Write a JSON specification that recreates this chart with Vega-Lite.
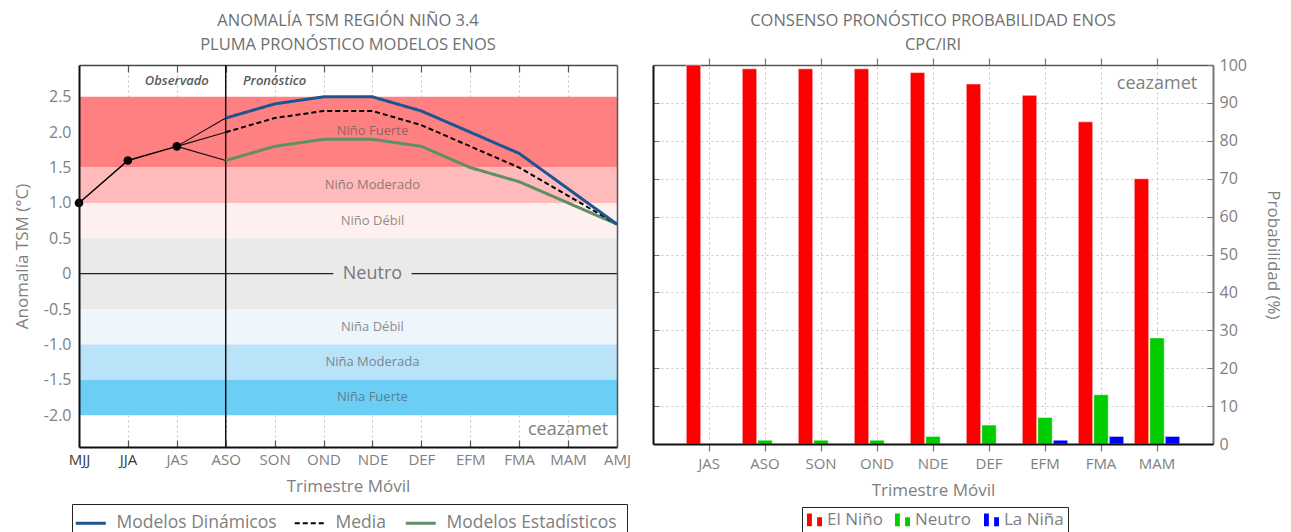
{
  "$schema": "https://vega.github.io/schema/vega-lite/v6.json",
  "background": "white",
  "padding": {"left": 13, "top": 12, "right": 4, "bottom": 0},
  "spacing": 36,
  "bounds": "flush",
  "datasets": {
    "franjas": [
      {"fase": "Niño Fuerte", "desde": 1.5, "hasta": 2.5},
      {"fase": "Niño Moderado", "desde": 1.0, "hasta": 1.5},
      {"fase": "Niño Débil", "desde": 0.5, "hasta": 1.0},
      {"fase": "Neutro", "desde": -0.5, "hasta": 0.5},
      {"fase": "Niña Débil", "desde": -1.0, "hasta": -0.5},
      {"fase": "Niña Moderada", "desde": -1.5, "hasta": -1.0},
      {"fase": "Niña Fuerte", "desde": -2.0, "hasta": -1.5}
    ],
    "rotulos": [
      {"texto": "Niño Fuerte", "i": 6, "v": 2.02},
      {"texto": "Niño Moderado", "i": 6, "v": 1.25},
      {"texto": "Niño Débil", "i": 6, "v": 0.75},
      {"texto": "Niña Débil", "i": 6, "v": -0.75},
      {"texto": "Niña Moderada", "i": 6, "v": -1.25},
      {"texto": "Niña Fuerte", "i": 6, "v": -1.75}
    ],
    "hitos": [
      {"texto": "Observado", "i": 2, "v": 2.72},
      {"texto": "Pronóstico", "i": 4, "v": 2.72}
    ],
    "firma": [{"texto": "ceazamet", "i": 10, "v": -2.21}],
    "neutro": [{"texto": "Neutro", "i": 6, "v": 0}],
    "eje_cero": [
      {"i": 0, "i2": 5.2, "v": 0},
      {"i": 6.8, "i2": 11, "v": 0}
    ],
    "inicio": [{"i": 3}],
    "observado": [
      {"i": 0, "v": 1.0},
      {"i": 1, "v": 1.6},
      {"i": 2, "v": 1.8}
    ],
    "enlaces": [
      {"g": "din", "i": 2, "v": 1.8}, {"g": "din", "i": 3, "v": 2.2},
      {"g": "med", "i": 2, "v": 1.8}, {"g": "med", "i": 3, "v": 2.0},
      {"g": "est", "i": 2, "v": 1.8}, {"g": "est", "i": 3, "v": 1.6}
    ],
    "modelos": [
      {"serie": "Modelos Estadísticos", "i": 3, "v": 1.6},
      {"serie": "Modelos Estadísticos", "i": 4, "v": 1.8},
      {"serie": "Modelos Estadísticos", "i": 5, "v": 1.9},
      {"serie": "Modelos Estadísticos", "i": 6, "v": 1.9},
      {"serie": "Modelos Estadísticos", "i": 7, "v": 1.8},
      {"serie": "Modelos Estadísticos", "i": 8, "v": 1.5},
      {"serie": "Modelos Estadísticos", "i": 9, "v": 1.3},
      {"serie": "Modelos Estadísticos", "i": 10, "v": 1.0},
      {"serie": "Modelos Estadísticos", "i": 11, "v": 0.7},
      {"serie": "Media", "i": 3, "v": 2.0},
      {"serie": "Media", "i": 4, "v": 2.2},
      {"serie": "Media", "i": 5, "v": 2.3},
      {"serie": "Media", "i": 6, "v": 2.3},
      {"serie": "Media", "i": 7, "v": 2.1},
      {"serie": "Media", "i": 8, "v": 1.8},
      {"serie": "Media", "i": 9, "v": 1.5},
      {"serie": "Media", "i": 10, "v": 1.1},
      {"serie": "Media", "i": 11, "v": 0.7},
      {"serie": "Modelos Dinámicos", "i": 3, "v": 2.2},
      {"serie": "Modelos Dinámicos", "i": 4, "v": 2.4},
      {"serie": "Modelos Dinámicos", "i": 5, "v": 2.5},
      {"serie": "Modelos Dinámicos", "i": 6, "v": 2.5},
      {"serie": "Modelos Dinámicos", "i": 7, "v": 2.3},
      {"serie": "Modelos Dinámicos", "i": 8, "v": 2.0},
      {"serie": "Modelos Dinámicos", "i": 9, "v": 1.7},
      {"serie": "Modelos Dinámicos", "i": 10, "v": 1.2},
      {"serie": "Modelos Dinámicos", "i": 11, "v": 0.7}
    ],
    "probabilidades": [
      {"trimestre": "JAS", "categoria": "El Niño", "prob": 100},
      {"trimestre": "JAS", "categoria": "Neutro", "prob": 0},
      {"trimestre": "JAS", "categoria": "La Niña", "prob": 0},
      {"trimestre": "ASO", "categoria": "El Niño", "prob": 99},
      {"trimestre": "ASO", "categoria": "Neutro", "prob": 1},
      {"trimestre": "ASO", "categoria": "La Niña", "prob": 0},
      {"trimestre": "SON", "categoria": "El Niño", "prob": 99},
      {"trimestre": "SON", "categoria": "Neutro", "prob": 1},
      {"trimestre": "SON", "categoria": "La Niña", "prob": 0},
      {"trimestre": "OND", "categoria": "El Niño", "prob": 99},
      {"trimestre": "OND", "categoria": "Neutro", "prob": 1},
      {"trimestre": "OND", "categoria": "La Niña", "prob": 0},
      {"trimestre": "NDE", "categoria": "El Niño", "prob": 98},
      {"trimestre": "NDE", "categoria": "Neutro", "prob": 2},
      {"trimestre": "NDE", "categoria": "La Niña", "prob": 0},
      {"trimestre": "DEF", "categoria": "El Niño", "prob": 95},
      {"trimestre": "DEF", "categoria": "Neutro", "prob": 5},
      {"trimestre": "DEF", "categoria": "La Niña", "prob": 0},
      {"trimestre": "EFM", "categoria": "El Niño", "prob": 92},
      {"trimestre": "EFM", "categoria": "Neutro", "prob": 7},
      {"trimestre": "EFM", "categoria": "La Niña", "prob": 1},
      {"trimestre": "FMA", "categoria": "El Niño", "prob": 85},
      {"trimestre": "FMA", "categoria": "Neutro", "prob": 13},
      {"trimestre": "FMA", "categoria": "La Niña", "prob": 2},
      {"trimestre": "MAM", "categoria": "El Niño", "prob": 70},
      {"trimestre": "MAM", "categoria": "Neutro", "prob": 28},
      {"trimestre": "MAM", "categoria": "La Niña", "prob": 2}
    ],
    "firma_der": [{"texto": "ceazamet", "trimestre": "MAM", "prob": 95}]
  },
  "hconcat": [
    {
      "width": 538,
      "height": 382,
      "title": {
        "text": ["ANOMALÍA TSM REGIÓN NIÑO 3.4", "PLUMA PRONÓSTICO MODELOS ENOS"],
        "fontSize": 16.5,
        "fontWeight": "normal",
        "color": "#707070",
        "lineHeight": 24,
        "offset": 11,
        "anchor": "middle"
      },
      "layer": [
        {
          "layer": [
            {
              "data": {"name": "franjas"},
              "mark": {"type": "rect"},
              "encoding": {
                "y": {
                  "field": "desde", "type": "quantitative",
                  "scale": {"domain": [-2.45, 2.95], "nice": false, "zero": false},
                  "axis": {
                    "orient": "left",
                    "values": [-2, -1.5, -1, -0.5, 0, 0.5, 1, 1.5, 2, 2.5],
                    "labelExpr": "datum.value === 0 ? '0' : (datum.value < 0 ? '-' : '') + format(abs(datum.value), '.1f')",
                    "labelFontSize": 16,
                    "labelPadding": 8,
                    "ticks": false,
                    "domainColor": "#111111",
                    "domainWidth": 2,
                    "grid": false,
                    "title": "Anomalía TSM (°C)",
                    "titleFontSize": 17,
                    "titlePadding": 12,
                    "zindex": 1
                  }
                },
                "y2": {"field": "hasta"},
                "fill": {
                  "field": "fase", "type": "nominal",
                  "scale": {
                    "domain": ["Niño Fuerte", "Niño Moderado", "Niño Débil", "Neutro", "Niña Débil", "Niña Moderada", "Niña Fuerte"],
                    "range": ["#ff8080", "#ffbbbb", "#fff0f0", "#eaeaea", "#eef6fc", "#b9e3f8", "#6bcef5"]
                  },
                  "legend": null
                }
              }
            },
            {
              "data": {"name": "rotulos"},
              "mark": {"type": "text", "fontSize": 13, "color": "#555555", "opacity": 0.65},
              "encoding": {
                "x": {
                  "field": "i", "type": "quantitative",
                  "scale": {"domain": [0, 11], "nice": false, "zero": false},
                  "axis": {
                    "orient": "top",
                    "values": [1, 2, 3, 4, 5, 6, 7, 8, 9, 10],
                    "labels": false,
                    "title": null,
                    "grid": true,
                    "gridDash": [2, 3],
                    "gridColor": "#c4c4c4",
                    "tickSize": -7,
                    "tickColor": "#555555",
                    "tickWidth": 1.2,
                    "domainColor": "#444444",
                    "domainWidth": 1.5,
                    "zindex": 0
                  }
                },
                "y": {"field": "v", "type": "quantitative", "scale": {"domain": [-2.45, 2.95], "nice": false, "zero": false}},
                "text": {"field": "texto"}
              }
            },
            {
              "data": {"name": "hitos"},
              "mark": {"type": "text", "fontSize": 13, "fontStyle": "italic", "fontWeight": 600, "color": "#5a5a5a"},
              "encoding": {
                "x": {"field": "i", "type": "quantitative", "scale": {"domain": [0, 11], "nice": false, "zero": false}},
                "y": {"field": "v", "type": "quantitative", "scale": {"domain": [-2.45, 2.95], "nice": false, "zero": false}},
                "text": {"field": "texto"}
              }
            },
            {
              "data": {"name": "firma"},
              "mark": {"type": "text", "fontSize": 18, "color": "#808080"},
              "encoding": {
                "x": {"field": "i", "type": "quantitative", "scale": {"domain": [0, 11], "nice": false, "zero": false}},
                "y": {"field": "v", "type": "quantitative", "scale": {"domain": [-2.45, 2.95], "nice": false, "zero": false}},
                "text": {"field": "texto"}
              }
            }
          ]
        },
        {
          "layer": [
            {
              "data": {"name": "eje_cero"},
              "mark": {"type": "rule", "color": "#222222", "strokeWidth": 1.2},
              "encoding": {
                "x": {
                  "field": "i", "type": "quantitative",
                  "scale": {"domain": [0, 11], "nice": false, "zero": false},
                  "axis": {
                    "orient": "bottom",
                    "values": [0, 1, 2, 3, 4, 5, 6, 7, 8, 9, 10, 11],
                    "labelExpr": "['MJJ','JJA','JAS','ASO','SON','OND','NDE','DEF','EFM','FMA','MAM','AMJ'][datum.value]",
                    "labelColor": {"condition": {"test": "datum.value <= 1", "value": "#3a3a3a"}, "value": "#808080"},
                    "labelFontSize": 15,
                    "labelFlush": false,
                    "labelOverlap": false,
                    "labelPadding": 12,
                    "tickSize": -7,
                    "tickColor": "#555555",
                    "tickWidth": 1.2,
                    "domainColor": "#111111",
                    "domainWidth": 2,
                    "grid": false,
                    "title": "Trimestre Móvil",
                    "titleFontSize": 17,
                    "titlePadding": 11,
                    "zindex": 1
                  }
                },
                "x2": {"field": "i2"},
                "y": {
                  "field": "v", "type": "quantitative",
                  "scale": {"domain": [-2.45, 2.95], "nice": false, "zero": false},
                  "axis": {
                    "orient": "right",
                    "labels": false,
                    "ticks": false,
                    "grid": false,
                    "title": null,
                    "domainColor": "#555555",
                    "domainWidth": 1.5,
                    "zindex": 1
                  }
                }
              }
            },
            {
              "data": {"name": "neutro"},
              "mark": {"type": "text", "fontSize": 18, "color": "#777777"},
              "encoding": {
                "x": {"field": "i", "type": "quantitative", "scale": {"domain": [0, 11], "nice": false, "zero": false}},
                "y": {"field": "v", "type": "quantitative", "scale": {"domain": [-2.45, 2.95], "nice": false, "zero": false}},
                "text": {"field": "texto"}
              }
            },
            {
              "data": {"name": "inicio"},
              "mark": {"type": "rule", "color": "#111111", "strokeWidth": 1.5},
              "encoding": {
                "x": {"field": "i", "type": "quantitative", "scale": {"domain": [0, 11], "nice": false, "zero": false}}
              }
            },
            {
              "data": {"name": "enlaces"},
              "mark": {"type": "line", "color": "#111111", "strokeWidth": 1.1},
              "encoding": {
                "x": {"field": "i", "type": "quantitative", "scale": {"domain": [0, 11], "nice": false, "zero": false}},
                "y": {"field": "v", "type": "quantitative", "scale": {"domain": [-2.45, 2.95], "nice": false, "zero": false}},
                "detail": {"field": "g"}
              }
            },
            {
              "data": {"name": "modelos"},
              "mark": {"type": "line"},
              "encoding": {
                "x": {"field": "i", "type": "quantitative", "scale": {"domain": [0, 11], "nice": false, "zero": false}},
                "y": {"field": "v", "type": "quantitative", "scale": {"domain": [-2.45, 2.95], "nice": false, "zero": false}},
                "color": {
                  "field": "serie", "type": "nominal",
                  "scale": {
                    "domain": ["Modelos Dinámicos", "Media", "Modelos Estadísticos"],
                    "range": ["#1d5592", "#000000", "#5f8f63"]
                  },
                  "legend": {
                    "orient": "none", "legendX": -7, "legendY": 439,
                    "direction": "horizontal", "title": null,
                    "strokeColor": "#222222", "fillColor": "white", "padding": 10,
                    "symbolSize": 900, "symbolStrokeWidth": 3,
                    "labelFontSize": 17.5, "labelColor": "#808080", "labelLimit": 400,
                    "columnPadding": 13, "labelOffset": 17,
                    "encoding": {
                      "symbols": {
                        "strokeDash": {"value": {"expr": "datum.value === 'Media' ? [5, 3] : [1, 0]"}},
                        "strokeWidth": {"value": {"expr": "datum.value === 'Media' ? 2 : 3"}}
                      }
                    }
                  }
                },
                "strokeDash": {
                  "field": "serie", "type": "nominal",
                  "scale": {
                    "type": "ordinal",
                    "domain": ["Modelos Dinámicos", "Media", "Modelos Estadísticos"],
                    "range": [[1, 0], [5, 3], [1, 0]]
                  },
                  "legend": null
                },
                "strokeWidth": {
                  "field": "serie", "type": "nominal",
                  "scale": {
                    "type": "ordinal",
                    "domain": ["Modelos Dinámicos", "Media", "Modelos Estadísticos"],
                    "range": [3, 2, 3]
                  },
                  "legend": null
                }
              }
            },
            {
              "data": {"name": "observado"},
              "mark": {"type": "line", "color": "#000000", "strokeWidth": 1.5, "point": {"filled": true, "size": 75, "color": "#000000"}},
              "encoding": {
                "x": {"field": "i", "type": "quantitative", "scale": {"domain": [0, 11], "nice": false, "zero": false}},
                "y": {"field": "v", "type": "quantitative", "scale": {"domain": [-2.45, 2.95], "nice": false, "zero": false}}
              }
            }
          ]
        }
      ],
      "resolve": {"axis": {"x": "independent", "y": "independent"}}
    },
    {
      "width": 560,
      "height": 379,
      "title": {
        "text": ["CONSENSO PRONÓSTICO PROBABILIDAD ENOS", "CPC/IRI"],
        "fontSize": 16.5,
        "fontWeight": "normal",
        "color": "#707070",
        "lineHeight": 24,
        "offset": 4,
        "anchor": "middle"
      },
      "layer": [
        {
          "data": {"name": "probabilidades"},
          "mark": {"type": "bar", "stroke": "white", "strokeWidth": 1, "strokeOpacity": 0.5},
          "encoding": {
            "x": {
              "field": "trimestre", "type": "nominal",
              "scale": {"domain": ["JAS", "ASO", "SON", "OND", "NDE", "DEF", "EFM", "FMA", "MAM"], "paddingInner": 0, "paddingOuter": 0.5},
              "axis": {
                "orient": "bottom",
                "title": "Trimestre Móvil",
                "titleFontSize": 17,
                "titlePadding": 11,
                "labelFontSize": 15,
                "labelAngle": 0,
                "labelPadding": 5,
                "tickSize": 7,
                "tickColor": "#777777",
                "tickWidth": 1.2,
                "bandPosition": 0.5,
                "domainColor": "#111111",
                "domainWidth": 2,
                "grid": false,
                "zindex": 1
              }
            },
            "xOffset": {
              "field": "categoria", "type": "nominal",
              "scale": {"domain": ["El Niño", "Neutro", "La Niña"], "paddingInner": 0.07, "paddingOuter": 0.34}
            },
            "y": {
              "field": "prob", "type": "quantitative",
              "scale": {"domain": [0, 100], "nice": false},
              "axis": {
                "orient": "right",
                "values": [0, 10, 20, 30, 40, 50, 60, 70, 80, 90, 100],
                "labelFontSize": 16,
                "labelPadding": 12,
                "tickSize": -6,
                "tickColor": "#777777",
                "domainColor": "#777777",
                "domainWidth": 2,
                "grid": true,
                "gridDash": [2, 3],
                "gridColor": "#c4c4c4",
                "title": "Probabilidad (%)",
                "titleAngle": 90,
                "titleFontSize": 17,
                "titlePadding": 17,
                "zindex": 0
              }
            },
            "color": {
              "field": "categoria", "type": "nominal",
              "scale": {"domain": ["El Niño", "Neutro", "La Niña"], "range": ["#ff0000", "#00cc00", "#0000ff"]},
              "legend": {
                "orient": "none", "legendX": 149, "legendY": 442,
                "direction": "horizontal", "title": null,
                "strokeColor": "#222222", "fillColor": "white", "padding": 4,
                "symbolType": "M-1,-0.85H-0.35V0.85H-1Z M0.35,-0.35H1V0.85H0.35Z",
                "symbolSize": 225, "symbolStrokeWidth": 0,
                "labelFontSize": 17, "labelColor": "#808080",
                "columnPadding": 11, "labelOffset": 4
              }
            }
          }
        },
        {
          "data": {"name": "firma_der"},
          "mark": {"type": "text", "fontSize": 18, "color": "#808080"},
          "encoding": {
            "x": {
              "field": "trimestre", "type": "nominal",
              "scale": {"domain": ["JAS", "ASO", "SON", "OND", "NDE", "DEF", "EFM", "FMA", "MAM"]},
              "axis": {
                "orient": "top",
                "labels": false,
                "title": null,
                "tickSize": 7,
                "tickColor": "#777777",
                "tickWidth": 1.2,
                "bandPosition": 0.5,
                "domainColor": "#555555",
                "domainWidth": 1.5,
                "grid": true,
                "gridDash": [2, 3],
                "gridColor": "#c4c4c4",
                "zindex": 0
              }
            },
            "y": {
              "field": "prob", "type": "quantitative",
              "scale": {"domain": [0, 100], "nice": false},
              "axis": {
                "orient": "left",
                "values": [10, 20, 30, 40, 50, 60, 70, 80, 90],
                "labels": false,
                "tickSize": -6,
                "tickColor": "#777777",
                "grid": false,
                "title": null,
                "domainColor": "#111111",
                "domainWidth": 2,
                "zindex": 0
              }
            },
            "text": {"field": "texto"}
          }
        }
      ],
      "resolve": {"axis": {"x": "independent", "y": "independent"}}
    }
  ],
  "resolve": {
    "scale": {"color": "independent"},
    "legend": {"color": "independent"}
  },
  "config": {
    "font": "Open Sans",
    "view": {"stroke": null},
    "axis": {
      "labelFont": "Open Sans",
      "titleFont": "Open Sans",
      "labelColor": "#808080",
      "titleColor": "#808080",
      "titleFontWeight": "normal"
    },
    "legend": {"labelFont": "Open Sans"},
    "title": {"font": "Open Sans"}
  }
}
